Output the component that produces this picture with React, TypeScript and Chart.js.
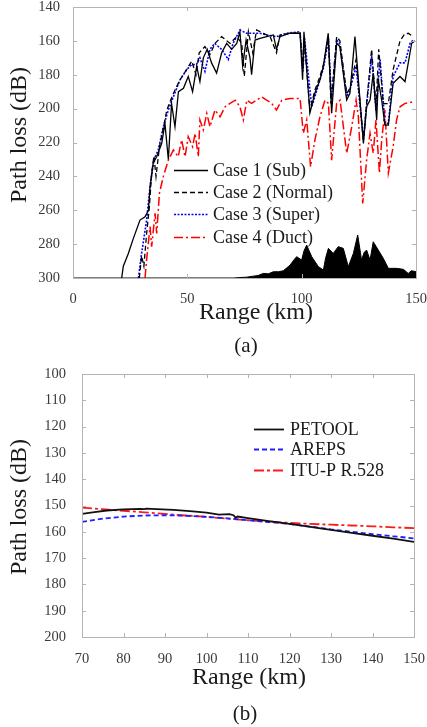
import React, { useEffect, useRef } from "react";
import { Chart, registerables } from "chart.js";

Chart.register(...registerables);

// ---------- Chart (a) data ----------
const case1Range = [21.3, 22, 24.2, 26.4, 29.3, 31.5, 33, 33.7, 35.1, 36.6, 38.8, 40.2, 41.7, 43.1, 44.6, 46.1, 48.3, 50.4, 52.3, 54.1, 55.5, 57, 58.7, 60.6, 62.8, 65, 67.2, 69.4, 71.6, 73, 74.2, 75.7, 77.4, 78.1, 79.6, 81.8, 84.7, 87.6, 89, 90.5, 94.9, 99.3, 100.4, 101, 103.6, 105.8, 108, 109.5, 111.6, 113.1, 115.3, 116.7, 119.7, 121.1, 123.3, 127, 128.4, 129.9, 131.3, 132.8, 133.5, 135, 136.4, 137.9, 140, 143, 145.2, 148.1, 149.5];
const case1Loss = [300, 293, 285.5, 276.6, 265.8, 263.8, 260, 246, 232, 228.4, 220.5, 208.7, 230, 197, 210.7, 190, 188, 181, 190, 175, 184, 170, 165, 173, 179, 167, 161.5, 165, 161.5, 154.6, 175, 159.5, 170, 180, 159.5, 158.5, 157.5, 156.5, 165, 157.5, 155.5, 155.5, 183, 154.6, 202.6, 190.8, 183, 175, 155.5, 202.7, 161.4, 163.4, 194.9, 191, 157.5, 220.5, 198.8, 195, 179, 206.7, 183, 195, 209.7, 209.7, 185, 181, 184, 161.4, 160];

const case2Range = [29, 30, 31, 32.2, 33.4, 34.4, 35.4, 36.3, 37.8, 39.5, 41, 42.7, 44.6, 46.8, 49.7, 51.9, 53.8, 55.2, 57.7, 59.9, 62.1, 65, 68.7, 71.6, 73.8, 74.9, 76.7, 78.6, 80.3, 83.2, 86.2, 89, 90.5, 94.9, 99.3, 100.6, 101.2, 103.6, 105.8, 108, 109.5, 111.7, 112.8, 115.3, 116.7, 119.7, 121.1, 123.8, 127, 128.4, 130.6, 132.5, 133.7, 135.7, 137.9, 140, 143, 145, 146.6, 148.8];
const case2Loss = [300, 287, 293, 273.7, 258, 238, 228, 240, 222.5, 211.6, 201, 195, 189, 183, 177, 172, 180, 167, 163.4, 168, 161.5, 157.5, 161.5, 157.5, 161.5, 181, 154.6, 167, 153.6, 155.5, 157.5, 167, 156.5, 155.5, 155.5, 176, 160, 201, 189, 181, 174, 157.5, 197, 157.5, 160, 191, 188, 171, 218.5, 197, 165, 199, 165, 197, 197, 177, 160, 156, 155.5, 157.5];

const case3Range = [28.6, 30, 32.2, 33.7, 35.4, 37.3, 39.5, 41.7, 43.9, 46.8, 49.7, 51.9, 54, 55.5, 57.7, 59.9, 62, 65, 67.9, 70, 73, 75.9, 78.9, 81.8, 84.7, 89, 93.4, 99.3, 100.6, 101.2, 104.4, 108, 109.5, 111.7, 113.1, 115.3, 116.7, 119.7, 121.1, 123.8, 127, 128.4, 130.6, 132.5, 134.3, 136.4, 137.9, 140, 143, 145.2, 147.4, 148.8];
const case3Loss = [300, 285.5, 265.8, 246, 230, 224.4, 210.7, 200.8, 193, 183, 177, 174, 174, 170, 178, 165, 161.5, 165, 171, 161.5, 153.6, 155.5, 155.5, 155.5, 156.5, 157.5, 155.5, 154.6, 178, 158, 199, 183, 176, 159.5, 195, 159.5, 162, 193, 189, 175, 218.5, 198, 169, 201, 171, 208.7, 208.7, 181, 173, 173, 161.5, 159.5];

const case4Range = [31.5, 32.2, 33.7, 34.4, 35.9, 36.6, 37.8, 39.5, 41.7, 43.9, 46, 47.5, 49, 50.4, 52.3, 53.4, 54.8, 55.5, 57, 58.5, 59.9, 62.1, 64.3, 66.5, 68.7, 70.9, 73, 74.5, 76, 78.1, 80.3, 82.5, 84.7, 86.9, 89, 91.3, 94.9, 99.3, 100.7, 102.2, 103.9, 105.8, 108, 110.2, 111.7, 113.1, 115.3, 116.8, 119.7, 121.9, 123.8, 124.8, 126.7, 128.4, 129.9, 131.3, 132.5, 134, 135, 136.4, 137.9, 140, 141.5, 143, 145.2, 148.8];
const case4Loss = [300, 289, 269.7, 281.5, 261.8, 273.7, 250, 240, 230.4, 224.4, 228.4, 218.5, 228.4, 216.5, 222.5, 214.6, 228.4, 206.7, 212.6, 202.8, 210.7, 200.8, 204.8, 198.9, 196.9, 195, 198.9, 206.7, 195, 196.9, 195, 193, 195, 196.9, 200.8, 195, 194, 194, 214.6, 206.7, 234.3, 218.5, 204.8, 195, 196.9, 230.4, 196.9, 195, 226.4, 210.7, 195, 204.8, 256, 230.4, 214.6, 226.4, 206.7, 238, 218.5, 200.8, 238, 222.5, 206.7, 198.9, 196.9, 196];

const terrainRange = [0, 70, 76, 78.9, 81, 83.2, 85.5, 87.6, 90, 92, 94.9, 96.5, 97.8, 100, 101, 102.2, 103.3, 104.4, 107.3, 109.5, 110.5, 111.7, 113.8, 116, 118.2, 120.4, 122.6, 124.5, 126.2, 127.3, 128.4, 129.9, 131.3, 133.5, 135.7, 137.9, 141.5, 144.5, 146.6, 148, 150];
const terrainLevel = [300, 300, 299.5, 298.9, 298.5, 297.3, 297.5, 296.3, 296.3, 295.7, 292.4, 289.5, 287.4, 289.4, 284, 280.6, 284, 287.4, 293.3, 295.3, 288, 282.5, 285.5, 281.5, 282.5, 293.3, 285.5, 274.6, 289.4, 285, 283.5, 289.4, 278.6, 283.5, 288.4, 294.3, 294.3, 294.9, 297.3, 295.7, 296.3];

const labelsA = ["Case 1 (Sub)", "Case 2 (Normal)", "Case 3 (Super)", "Case 4 (Duct)"];
const xTicksA = [0, 50, 100, 150];
const yTicksA = [140, 160, 180, 200, 220, 240, 260, 280, 300];

// ---------- Chart (b) data ----------
const petoolRange = [70, 73, 76, 80, 84, 85, 85.5, 88, 92, 96, 100, 103, 105.5, 106.5, 107, 107.5, 110, 115, 120, 125, 130, 135, 140, 145, 150];
const petoolLoss = [153.2, 152.5, 151.9, 151.5, 151.3, 151.4, 151.2, 151.4, 151.7, 152.1, 152.7, 153.5, 153.3, 153.7, 154.6, 154.2, 154.8, 155.9, 157, 158.1, 159.3, 160.4, 161.5, 162.6, 163.8];
const modelRange = [70, 75, 80, 85, 90, 95, 100, 105, 110, 115, 120, 125, 130, 135, 140, 145, 150];
const arepsLoss = [156.2, 155, 154.2, 153.8, 153.7, 153.9, 154.3, 154.9, 155.6, 156.3, 157, 158, 159.1, 160, 160.9, 161.7, 162.5];
const ituLoss = [150.8, 151.4, 152, 152.6, 153.2, 153.8, 154.3, 155, 155.6, 156.1, 156.6, 157, 157.3, 157.6, 157.9, 158.3, 158.6];

const labelsB = ["PETOOL", "AREPS", "ITU-P R.528"];
const xTicksB = [70, 80, 90, 100, 110, 120, 130, 140, 150];
const yTicksB = [100, 110, 120, 130, 140, 150, 160, 170, 180, 190, 200];

const FONT = "'Liberation Serif', 'Times New Roman', serif";
const BOX = "#b3b3b3";
const TICKTXT = "#3a3a3a";
const TXT = "#1a1a1a";

const pts = (xs: number[], ys: number[]) => xs.map((x, i) => ({ x, y: ys[i] }));

type Deco = {
  yTitle: { x: number; y: number };
  xTitle: { x: number; y: number };
  caption: { text: string; x: number; y: number };
  legend: { x1: number; x2: number; tx: number; ys: number[] };
};

function decoPlugin(d: Deco) {
  return {
    id: "decor",
    afterDraw(chart: any) {
      const ctx = chart.ctx as CanvasRenderingContext2D;
      const a = chart.chartArea;
      const xs = chart.scales.x;
      const ys = chart.scales.y;
      ctx.save();
      ctx.strokeStyle = BOX;
      ctx.lineWidth = 1;
      ctx.setLineDash([]);
      ctx.strokeRect(Math.round(a.left) + 0.5, Math.round(a.top) + 0.5, Math.round(a.right - a.left), Math.round(a.bottom - a.top));
      const tl = 4;
      ctx.beginPath();
      xs.ticks.forEach((t: any) => {
        const p = Math.round(xs.getPixelForValue(t.value)) + 0.5;
        ctx.moveTo(p, a.bottom);
        ctx.lineTo(p, a.bottom - tl);
        ctx.moveTo(p, a.top);
        ctx.lineTo(p, a.top + tl);
      });
      ys.ticks.forEach((t: any) => {
        const p = Math.round(ys.getPixelForValue(t.value)) + 0.5;
        ctx.moveTo(a.left, p);
        ctx.lineTo(a.left + tl, p);
        ctx.moveTo(a.right, p);
        ctx.lineTo(a.right - tl, p);
      });
      ctx.stroke();
      ctx.fillStyle = TXT;
      ctx.font = `24px ${FONT}`;
      ctx.textAlign = "center";
      ctx.textBaseline = "middle";
      ctx.fillText("Range (km)", d.xTitle.x, d.xTitle.y);
      ctx.save();
      ctx.translate(d.yTitle.x, d.yTitle.y);
      ctx.rotate(-Math.PI / 2);
      ctx.fillText("Path loss (dB)", 0, 0);
      ctx.restore();
      ctx.font = `21px ${FONT}`;
      ctx.fillText(d.caption.text, d.caption.x, d.caption.y);
      ctx.font = `18px ${FONT}`;
      ctx.textAlign = "left";
      let row = 0;
      chart.data.datasets.forEach((ds: any) => {
        if (!ds.inLegend) return;
        const y = d.legend.ys[row++];
        ctx.strokeStyle = ds.borderColor;
        ctx.lineWidth = ds.borderWidth;
        ctx.setLineDash(ds.borderDash || []);
        ctx.beginPath();
        ctx.moveTo(d.legend.x1, y + 0.5);
        ctx.lineTo(d.legend.x2, y + 0.5);
        ctx.stroke();
        ctx.setLineDash([]);
        ctx.fillStyle = TXT;
        ctx.fillText(ds.label, d.legend.tx, y + 1);
      });
      ctx.restore();
    },
  };
}

function makeOptions(o: {
  xMin: number; xMax: number; xTicks: number[];
  yMin: number; yMax: number; yTicks: number[];
  left: number; top: number; right: number; bottom: number; W: number; H: number;
  xPad: number; yPad: number;
}) {
  return {
    responsive: false,
    animation: false as const,
    events: [],
    layout: { padding: { left: 0, top: o.top, right: o.W - o.right, bottom: o.H - o.bottom - 30 } },
    plugins: { legend: { display: false }, tooltip: { enabled: false }, title: { display: false } },
    elements: { point: { radius: 0 }, line: { tension: 0 } },
    scales: {
      x: {
        type: "linear" as const,
        min: o.xMin,
        max: o.xMax,
        grid: { display: false },
        border: { display: false },
        afterBuildTicks: (s: any) => { s.ticks = o.xTicks.map((v) => ({ value: v })); },
        afterFit: (s: any) => { s.height = 30; s.paddingLeft = 0; s.paddingRight = 0; },
        ticks: { color: TICKTXT, font: { family: FONT, size: 14.5 }, padding: o.xPad, maxRotation: 0, autoSkip: false },
      },
      y: {
        type: "linear" as const,
        reverse: true,
        min: o.yMin,
        max: o.yMax,
        grid: { display: false },
        border: { display: false },
        afterBuildTicks: (s: any) => { s.ticks = o.yTicks.map((v) => ({ value: v })); },
        afterFit: (s: any) => { s.width = o.left; s.paddingTop = 0; s.paddingBottom = 0; },
        ticks: { color: TICKTXT, font: { family: FONT, size: 14.5 }, padding: o.yPad, autoSkip: false },
      },
    },
  };
}

function ChartA() {
  const ref = useRef<HTMLCanvasElement>(null);
  useEffect(() => {
    const W = 427, H = 360;
    const terrain = { label: "Terrain", data: pts(terrainRange, terrainLevel), borderColor: "#000", backgroundColor: "#000", borderWidth: 1, fill: { value: 300 }, inLegend: false };
    const c1 = { label: labelsA[0], data: pts(case1Range, case1Loss), borderColor: "#000", borderWidth: 1.3, fill: false, inLegend: true };
    const c2 = { label: labelsA[1], data: pts(case2Range, case2Loss), borderColor: "#000", borderWidth: 1.3, borderDash: [5, 3], fill: false, inLegend: true };
    const c3 = { label: labelsA[2], data: pts(case3Range, case3Loss), borderColor: "#0000ff", borderWidth: 1.6, borderDash: [2, 1.5], fill: false, inLegend: true };
    const c4 = { label: labelsA[3], data: pts(case4Range, case4Loss), borderColor: "#ff0000", borderWidth: 1.5, borderDash: [9, 3, 2, 3], fill: false, inLegend: true };
    const chart = new Chart(ref.current!, {
      type: "line",
      data: { datasets: [terrain, c1, c2, c3, c4].map((d, i) => ({ ...d, order: [5, 1, 2, 3, 4][i] })) as any },
      options: makeOptions({ xMin: 0, xMax: 150, xTicks: xTicksA, yMin: 140, yMax: 300, yTicks: yTicksA, left: 73, top: 7, right: 416, bottom: 278, W, H, xPad: 4, yPad: 5 }) as any,
      plugins: [decoPlugin({
        yTitle: { x: 20, y: 135 },
        xTitle: { x: 256, y: 313 },
        caption: { text: "(a)", x: 246, y: 346 },
        legend: { x1: 174, x2: 208, tx: 213, ys: [170, 192, 214, 237] },
      })],
    });
    return () => chart.destroy();
  }, []);
  return <canvas ref={ref} width={427} height={360} style={{ display: "block", width: 427, height: 360 }} />;
}

function ChartB() {
  const ref = useRef<HTMLCanvasElement>(null);
  useEffect(() => {
    const W = 427, H = 367;
    const datasets: any[] = [
      { label: labelsB[0], data: pts(petoolRange, petoolLoss), borderColor: "#111", borderWidth: 1.8, fill: false, inLegend: true },
      { label: labelsB[1], data: pts(modelRange, arepsLoss), borderColor: "#1f1fff", borderWidth: 1.8, borderDash: [5, 3], fill: false, inLegend: true },
      { label: labelsB[2], data: pts(modelRange, ituLoss), borderColor: "#ff1a1a", borderWidth: 1.8, borderDash: [10, 3, 3, 3], fill: false, inLegend: true },
    ];
    const chart = new Chart(ref.current!, {
      type: "line",
      data: { datasets },
      options: makeOptions({ xMin: 70, xMax: 150, xTicks: xTicksB, yMin: 100, yMax: 200, yTicks: yTicksB, left: 82, top: 14, right: 414, bottom: 277, W, H, xPad: 5, yPad: 8 }) as any,
      plugins: [decoPlugin({
        yTitle: { x: 20, y: 147 },
        xTitle: { x: 249, y: 318 },
        caption: { text: "(b)", x: 245, y: 354 },
        legend: { x1: 254, x2: 284, tx: 290, ys: [69, 89, 110] },
      })],
    });
    return () => chart.destroy();
  }, []);
  return <canvas ref={ref} width={427} height={367} style={{ display: "block", width: 427, height: 367 }} />;
}

export default function App() {
  return (
    <div style={{ position: "fixed", left: 0, top: 0, width: 427, height: 727, background: "#fff" }}>
      <ChartA />
      <ChartB />
    </div>
  );
}
